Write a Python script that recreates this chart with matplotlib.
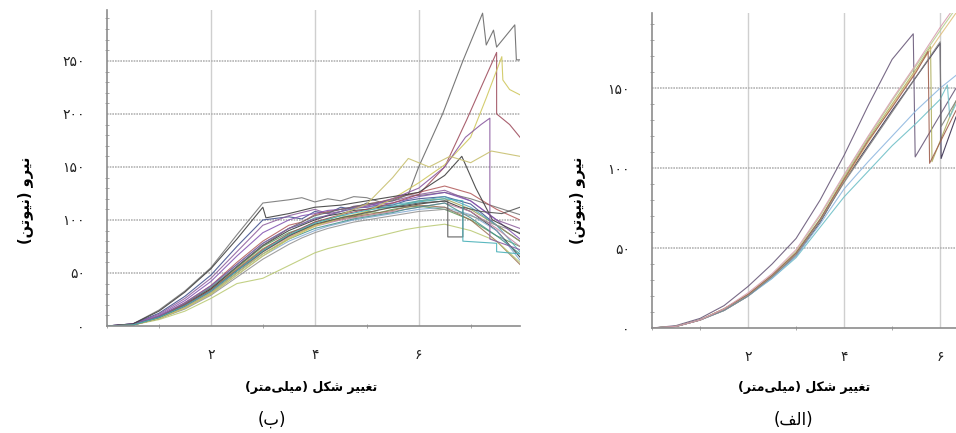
import matplotlib
matplotlib.use('Agg')
import matplotlib.pyplot as plt
from matplotlib.ticker import MultipleLocator

# Persian text needs manual joining forms (matplotlib does no Arabic shaping)
FORMS = {
    'ا': ('\uFE8D', '\uFE8E', None, None),
    'ب': ('\uFE8F', '\uFE90', '\uFE91', '\uFE92'),
    'ت': ('\uFE95', '\uFE96', '\uFE97', '\uFE98'),
    'ر': ('\uFEAD', '\uFEAE', None, None),
    'ش': ('\uFEB5', '\uFEB6', '\uFEB7', '\uFEB8'),
    'غ': ('\uFECD', '\uFECE', '\uFECF', '\uFED0'),
    'ف': ('\uFED1', '\uFED2', '\uFED3', '\uFED4'),
    'ک': ('\uFB8E', '\uFB8F', '\uFB90', '\uFB91'),
    'ل': ('\uFEDD', '\uFEDE', '\uFEDF', '\uFEE0'),
    'م': ('\uFEE1', '\uFEE2', '\uFEE3', '\uFEE4'),
    'ن': ('\uFEE5', '\uFEE6', '\uFEE7', '\uFEE8'),
    'و': ('\uFEED', '\uFEEE', None, None),
    'ی': ('\uFBFC', '\uFBFD', '\uFBFE', '\uFBFF'),
}


def fa(s):
    out = []
    for i, ch in enumerate(s):
        if ch not in FORMS:
            if ch != '\u200c':
                out.append(ch)
            continue
        prev = s[i - 1] if i > 0 else ''
        nxt = s[i + 1] if i + 1 < len(s) else ''
        pj = prev in FORMS and FORMS[prev][2] is not None
        nj = nxt in FORMS and FORMS[ch][2] is not None
        iso, fin, ini, med = FORMS[ch]
        if pj and nj:
            out.append(med)
        elif pj:
            out.append(fin)
        elif nj:
            out.append(ini)
        else:
            out.append(iso)
    vis = ''.join(out)[::-1]
    return vis.translate(str.maketrans('()', ')('))


xlabel_txt = 'تغییر شکل (میلی\u200cمتر)'
ylabel_txt = 'نیرو (نیوتن)'
cap_left = '(ب)'
cap_right = '(الف)'

x_ticks = [2, 4, 6]
x_tick_labels = ['۲', '۴', '۶']
yl_ticks = [0, 50, 100, 150, 200, 250]
yl_tick_labels = ['۰', '۵۰', '۱۰۰', '۱۵۰', '۲۰۰', '۲۵۰']
yr_ticks = [0, 50, 100, 150]
yr_tick_labels = ['۰', '۵۰', '۱۰۰', '۱۵۰']

# ---- left panel (ب) : many specimens ----
X = [0, 0.5, 1, 1.5, 2, 2.5, 3, 3.5, 3.75, 4, 4.25, 4.5, 4.75, 5, 5.25, 5.5, 5.75, 6, 6.5, 7, 7.5, 7.95]
c1 = [0, 2, 15, 33, 55, 86, 116, 119, 121, 117, 120, 118, 122, 121, 117, 119, 124, 123, 126, 120, 112, 105]
c2 = [0, 2, 12, 28, 48, 75, 100, 103, 101, 108, 106, 112, 110, 116, 113, 114, 118, 120, 122, 115, 95, 80]
c3 = [0, 2, 11, 26, 45, 70, 95, 104, 107, 110, 106, 108, 113, 114, 116, 118, 121, 124, 128, 118, 100, 92]
c4 = [0, 1, 9, 22, 38, 60, 80, 95, 98, 105, 108, 110, 112, 115, 117, 120, 123, 126, 132, 125, 110, 100]
c5 = [0, 1, 8, 20, 35, 55, 75, 88, 92, 98, 101, 104, 103, 108, 107, 110, 112, 113, 110, 100, 85, 75]
c6 = [0, 1, 8, 19, 34, 54, 73, 86, 90, 95, 99, 102, 104, 106, 110, 112, 115, 118, 120, 110, 95, 80]
c7 = [0, 1, 9, 21, 37, 58, 78, 92, 96, 102, 104, 108, 111, 112, 113, 115, 116, 118, 122, 112, 95, 70]
c8 = [0, 1, 8, 20, 35, 56, 76, 90, 95, 100, 104, 106, 109, 110, 112, 112, 113, 115, 118, 108, 90, 65]
c9 = [0, 1, 7, 18, 32, 50, 70, 84, 89, 94, 97, 100, 102, 104, 106, 108, 110, 112, 116, 108, 92, 75]
c10 = [0, 1, 7, 17, 30, 48, 66, 80, 85, 90, 94, 97, 100, 102, 104, 106, 108, 110, 112, 105, 90, 62]
c11 = [0, 1, 8, 19, 33, 52, 71, 85, 91, 96, 98, 101, 103, 105, 107, 109, 112, 114, 112, 100, 80, 58]
c12 = [0, 1, 6, 14, 26, 40, 45, 57, 63, 69, 73, 76, 79, 82, 85, 88, 91, 93, 96, 90, 80, 60]
c13 = [0, 1, 7, 17, 31, 50, 68, 82, 87, 92, 95, 98, 101, 103, 105, 107, 110, 112, 116, 102, 85, 68]
c14 = [0, 1, 7, 16, 29, 46, 63, 77, 83, 88, 92, 95, 98, 100, 102, 104, 106, 108, 110, 104, 95, 88]
c15 = [0, 2, 10, 24, 42, 66, 88, 100, 104, 106, 109, 110, 112, 112, 115, 116, 119, 122, 126, 118, 100, 82]
bundle = [c1, c2, c3, c4, c5, c6, c7, c8, c9, c10, c11, c12, c13, c14, c15]

a_x = [0, 0.5, 1, 1.5, 2, 2.5, 3, 3.5, 4, 4.5, 5, 5.5, 5.8, 6.0, 6.46, 6.85, 7.23, 7.3, 7.44, 7.5, 7.85, 7.88, 7.95]
a_y = [0, 1, 9, 21, 36, 56, 76, 92, 104, 110, 115, 118, 124, 150, 200, 250, 295, 265, 279, 263, 284, 251, 251]
b_x = [0, 0.5, 1, 1.5, 2, 2.5, 3, 3.5, 4, 4.5, 5, 5.5, 6, 6.5, 6.92, 7.2, 7.5, 7.5, 7.75, 7.95]
b_y = [0, 1, 8, 20, 34, 53, 72, 87, 98, 105, 110, 116, 124, 150, 194, 225, 258, 200, 190, 178]
cy_x = [0, 0.5, 1, 1.5, 2, 2.5, 3, 3.5, 4, 4.5, 5, 5.5, 6, 6.5, 7, 7.3, 7.6, 7.62, 7.75, 7.95]
cy_y = [0, 1, 7, 17, 30, 48, 66, 82, 94, 102, 108, 120, 135, 152, 178, 215, 254, 232, 223, 218]
d_x = [0, 0.5, 1, 1.5, 2, 2.5, 3, 3.06, 3.5, 4, 4.5, 5, 5.5, 6, 6.5, 6.83, 7.1, 7.42, 7.95]
d_y = [0, 2, 14, 32, 54, 82, 112, 102, 106, 112, 114, 118, 122, 126, 142, 160, 130, 100, 87]
e_x = [0, 0.5, 1, 1.5, 2, 2.5, 3, 3.5, 4, 4.5, 5, 5.5, 6, 6.5, 6.9, 7.2, 7.37, 7.37, 7.95]
e_y = [0, 1, 9, 22, 38, 58, 78, 92, 101, 108, 113, 120, 130, 150, 178, 190, 196, 82, 72]
f_x = [0, 0.5, 1, 1.5, 2, 2.5, 3, 3.5, 4, 4.5, 5, 5.5, 5.8, 6.2, 6.6, 7.0, 7.4, 7.95]
f_y = [0, 1, 7, 17, 31, 50, 68, 83, 95, 105, 115, 140, 158, 150, 160, 154, 165, 160]
g_x = [0, 0.5, 1, 1.5, 2, 2.5, 3, 3.5, 4, 4.5, 5, 5.5, 6, 6.56, 6.56, 6.85, 6.85, 7.2, 7.6, 7.95]
g_y = [0, 1, 8, 19, 33, 52, 70, 85, 96, 102, 107, 112, 116, 118, 84, 84, 112, 108, 106, 112]
h_x = [0, 0.5, 1, 1.5, 2, 2.5, 3, 3.5, 4, 4.5, 5, 5.5, 6, 6.5, 6.85, 6.85, 7.5, 7.5, 7.95]
h_y = [0, 1, 8, 19, 33, 52, 71, 86, 97, 104, 109, 113, 117, 120, 118, 80, 78, 70, 68]
special = [(a_x, a_y), (b_x, b_y), (cy_x, cy_y), (d_x, d_y), (e_x, e_y),
           (f_x, f_y), (g_x, g_y), (h_x, h_y)]

bundle_colors = ['#707070', '#3a4a8a', '#8a5a9a', '#b05858', '#5a9a5a', '#a0a050',
                 '#50a8b8', '#303030', '#c080a0', '#80a8d0', '#9a7050', '#b8c870',
                 '#40908a', '#909090', '#8050b0']
special_colors = ['#6a6a6a', '#a05060', '#d0c860', '#404040', '#8a5aa0',
                  '#c8c070', '#555555', '#48b0b8']

# ---- right panel (الف) ----
r_x1 = [0, 0.5, 1, 1.5, 2, 2.5, 3, 3.5, 4, 4.5, 5, 5.44, 5.48, 6.33]
r_y1 = [0, 1.5, 6, 14, 26, 40, 56, 80, 108, 139, 168, 184, 107, 150]
r_x2 = [0, 0.5, 1, 1.5, 2, 2.5, 3, 3.5, 4, 4.5, 5, 5.5, 5.8, 5.83, 6.33]
r_y2 = [0, 1, 5, 12, 21, 33, 47, 68, 94, 118, 140, 162, 176, 104, 142]
r_x3 = [0, 0.5, 1, 1.5, 2, 2.5, 3, 3.5, 4, 4.5, 5, 5.5, 6.0, 6.02, 6.33]
r_y3 = [0, 1, 5, 11, 20, 32, 45, 66, 92, 114, 136, 157, 178, 106, 132]
r_x4 = [0, 0.5, 1, 1.5, 2, 2.5, 3, 3.5, 4, 4.5, 5, 5.5, 6, 6.33]
r_y4 = [0, 1, 5, 12, 21, 33, 48, 70, 95, 119, 142, 164, 186, 200]
r_x5 = [0, 0.5, 1, 1.5, 2, 2.5, 3, 3.5, 4, 4.5, 5, 5.5, 6, 6.33]
r_y5 = [0, 1, 5, 11, 20, 32, 46, 67, 92, 116, 139, 161, 183, 197]
r_x6 = [0, 0.5, 1, 1.5, 2, 2.5, 3, 3.5, 4, 4.5, 5, 5.5, 6, 6.15, 6.2, 6.33]
r_y6 = [0, 1, 5, 11, 20, 31, 44, 63, 82, 98, 114, 128, 143, 152, 132, 140]
r_x7 = [0, 0.5, 1, 1.5, 2, 2.5, 3, 3.5, 4, 4.5, 5, 5.5, 6, 6.33]
r_y7 = [0, 1, 5, 11, 20, 31, 45, 65, 87, 104, 120, 136, 150, 158]
r_x8 = [0, 0.5, 1, 1.5, 2, 2.5, 3, 3.5, 4, 4.5, 5, 5.5, 5.75, 5.78, 6.33]
r_y8 = [0, 1, 5, 12, 21, 33, 47, 68, 93, 117, 138, 160, 173, 103, 136]
r_x9 = [0, 0.5, 1, 1.5, 2, 2.5, 3, 3.5, 4, 4.5, 5, 5.5, 6.0, 6.02, 6.33]
r_y9 = [0, 1, 5, 11, 20, 32, 46, 67, 91, 113, 135, 157, 179, 126, 142]
r_x10 = [0, 0.5, 1, 1.5, 2, 2.5, 3, 3.5, 4, 4.5, 5, 5.5, 6, 6.33]
r_y10 = [0, 1, 5, 12, 22, 34, 49, 71, 96, 120, 143, 165, 188, 202]
right_curves = [(r_x1, r_y1), (r_x2, r_y2), (r_x3, r_y3), (r_x4, r_y4), (r_x5, r_y5),
                (r_x6, r_y6), (r_x7, r_y7), (r_x8, r_y8), (r_x9, r_y9), (r_x10, r_y10)]
right_colors = ['#6a5a7a', '#b0b060', '#3a3050', '#b8d090', '#e0c080',
                '#70c0c8', '#90b8e0', '#a06050', '#808080', '#d8a0b0']

plt.rcParams['font.family'] = ['DejaVu Sans']
fig = plt.figure(figsize=(9.56, 4.33), dpi=100)
axL = fig.add_axes([107 / 956, 107 / 433, 413 / 956, 316 / 433])
axR = fig.add_axes([652 / 956, 105 / 433, 304 / 956, 315 / 433])


def style(ax, xmax, ymax, yt, ytl):
    ax.set_xlim(0, xmax)
    ax.set_ylim(0, ymax)
    for s in ['top', 'right']:
        ax.spines[s].set_visible(False)
    for s in ['left', 'bottom']:
        ax.spines[s].set_color('#8c8c8c')
        ax.spines[s].set_linewidth(1.2)
    ax.set_xticks(x_ticks)
    ax.set_xticklabels(x_tick_labels)
    ax.set_yticks(yt)
    ax.set_yticklabels(ytl)
    ax.xaxis.set_minor_locator(MultipleLocator(1))
    ax.yaxis.set_minor_locator(MultipleLocator(10))
    ax.tick_params(which='major', length=0, labelsize=10, colors='#222222')
    ax.tick_params(axis='x', which='major', pad=16)
    ax.tick_params(axis='y', which='major', pad=16)
    ax.tick_params(which='minor', length=3, direction='inout', color='#999999')
    ax.grid(False)
    for v in x_ticks:
        ax.axvline(v, color='#cfcfcf', lw=1.0, zorder=0)
    for v in yt[1:]:
        ax.axhline(v, color='#b4b4b4', lw=1.2, ls=(0, (1, 0.6)), zorder=0)


style(axL, 7.95, 298, yl_ticks, yl_tick_labels)
style(axR, 6.33, 197, yr_ticks, yr_tick_labels)

for ys, col in zip(bundle, bundle_colors):
    axL.plot(X, ys, color=col, lw=0.8, alpha=0.85)
for (xs, ys), col in zip(special, special_colors):
    axL.plot(xs, ys, color=col, lw=0.8, alpha=0.9)

for (xs, ys), col in zip(right_curves, right_colors):
    axR.plot(xs, ys, color=col, lw=0.8, alpha=0.9)

fig.text(311 / 956, 1 - 387 / 433, fa(xlabel_txt), ha='center', va='center',
         fontsize=9, fontweight='bold')
fig.text(804 / 956, 1 - 387 / 433, fa(xlabel_txt), ha='center', va='center',
         fontsize=9, fontweight='bold')
fig.text(25 / 956, 1 - 200 / 433, fa(ylabel_txt), ha='center', va='center',
         rotation=90, fontsize=10.5, fontweight='bold')
fig.text(577 / 956, 1 - 200 / 433, fa(ylabel_txt), ha='center', va='center',
         rotation=90, fontsize=10.5, fontweight='bold')
fig.text(272 / 956, 1 - 420 / 433, fa(cap_left), ha='center', va='center', fontsize=12)
fig.text(793 / 956, 1 - 420 / 433, fa(cap_right), ha='center', va='center', fontsize=12)

fig.savefig('out.png', dpi=100)
